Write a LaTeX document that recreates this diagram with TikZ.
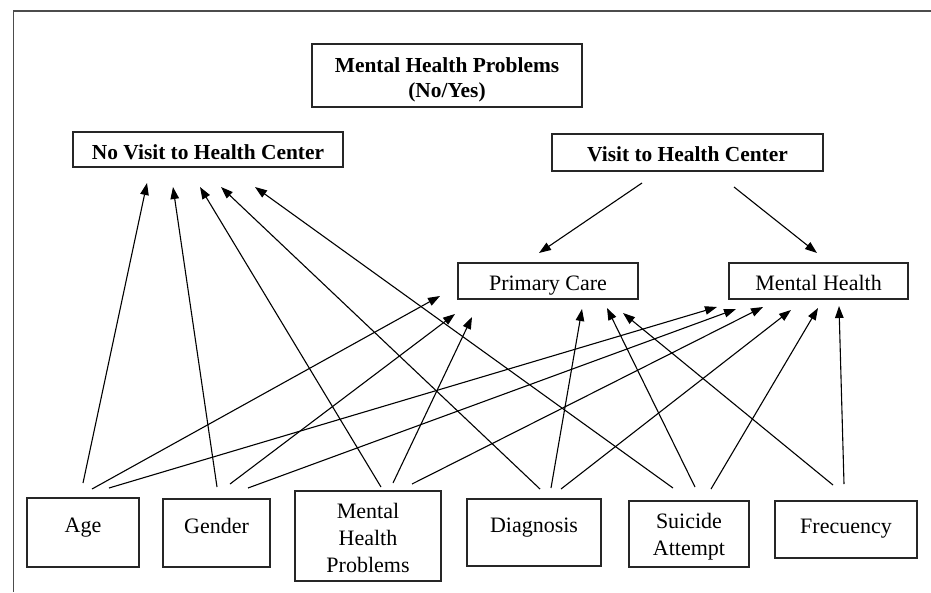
\documentclass[tikz,border=0pt]{standalone}
\usepackage{fontspec}
\setmainfont{Liberation Serif}
\usetikzlibrary{arrows.meta}
\begin{document}
\begin{tikzpicture}[x=1pt,y=-1pt,
  box/.style={draw=black!85,line width=1.2pt,inner sep=0pt,align=center},
  topbox/.style={box,font=\fontsize{21.4}{25}\selectfont\bfseries},
  botbox/.style={box,font=\fontsize{22}{27}\selectfont},
  arr/.style={draw=black,line width=1.1pt,-{Triangle[length=12pt,width=8.5pt]}},
  frame/.style={draw=black!70}]
\useasboundingbox (0,0) rectangle (931,592);
% frame lines
\draw[frame,line width=2pt] (13,11) -- (931,11);
\draw[frame,line width=1pt] (13,11) -- (13,592);

% top boxes
\node[topbox,minimum width=270pt,minimum height=63pt,text height=43pt,text depth=0pt] (mhptop) at (447,75.5) {Mental Health Problems\\(No/Yes)};
\node[topbox,minimum width=270pt,minimum height=35pt,text height=19pt,text depth=0pt] (novisit) at (208,149.5) {No Visit to Health Center};
\node[topbox,minimum width=271pt,minimum height=37pt,text height=17pt,text depth=0pt] (visit) at (687.5,152.5) {Visit to Health Center};

% middle boxes
\node[botbox,minimum width=180pt,minimum height=36pt,text height=18pt,text depth=0pt] (pc) at (548,281) {Primary Care};
\node[botbox,minimum width=179pt,minimum height=36pt,text height=18pt,text depth=0pt] (mh) at (818.5,281) {Mental Health};

% bottom boxes
\node[botbox,minimum width=112pt,minimum height=69pt,text height=6pt,text depth=7pt] (age) at (83,532.5) {Age};
\node[botbox,minimum width=107pt,minimum height=68pt,text height=6pt,text depth=6pt] (gender) at (216.5,533) {Gender};
\node[botbox,minimum width=146pt,minimum height=90pt,text height=72pt,text depth=0pt] (mhpbot) at (368,536) {Mental\\Health\\Problems};
\node[botbox,minimum width=134pt,minimum height=67pt,text height=6pt,text depth=6pt] (diag) at (534,532.5) {Diagnosis};
\node[botbox,minimum width=120pt,minimum height=66pt,text height=42pt,text depth=0pt] (suic) at (689,534) {Suicide\\Attempt};
\node[botbox,minimum width=142pt,minimum height=57pt,text height=10pt,text depth=3pt] (freq) at (846,529.5) {Frecuency};

% connector end points
\coordinate (age1) at (83,483);   \coordinate (nv1) at (147,183);
\coordinate (age2) at (92,489);   \coordinate (pc1) at (440,296);
\coordinate (age3) at (109,488);  \coordinate (mh1) at (717,307);
\coordinate (gen1) at (217,487);  \coordinate (nv2) at (173,187);
\coordinate (gen2) at (230,484);  \coordinate (pc2) at (455,314);
\coordinate (gen3) at (248,488);  \coordinate (mh2) at (736,309);
\coordinate (mhp1) at (381,487);  \coordinate (nv3) at (200,187);
\coordinate (mhp2) at (393,483);  \coordinate (pc3) at (472,317);
\coordinate (mhp3) at (412,484);  \coordinate (mh3) at (763,307);
\coordinate (dia1) at (540,489);  \coordinate (nv4) at (221,187);
\coordinate (dia2) at (551,488);  \coordinate (pc4) at (582,309);
\coordinate (dia3) at (561,489);  \coordinate (mh4) at (791,310);
\coordinate (sui1) at (673,488);  \coordinate (nv5) at (255,187);
\coordinate (sui2) at (695,487);  \coordinate (pc5) at (607,308);
\coordinate (sui3) at (711,489);  \coordinate (mh5) at (818,308);
\coordinate (fre1) at (833,485);  \coordinate (pc6) at (623,313);
\coordinate (fre2) at (844,484);  \coordinate (mh6) at (839,306);
\coordinate (vis1) at (642,183);  \coordinate (pc0) at (539,253);
\coordinate (vis2) at (734,187);  \coordinate (mh0) at (817,253);

% connectors
\draw[arr] (age1) -- (nv1);
\draw[arr] (age2) -- (pc1);
\draw[arr] (age3) -- (mh1);
\draw[arr] (gen1) -- (nv2);
\draw[arr] (gen2) -- (pc2);
\draw[arr] (gen3) -- (mh2);
\draw[arr] (mhp1) -- (nv3);
\draw[arr] (mhp2) -- (pc3);
\draw[arr] (mhp3) -- (mh3);
\draw[arr] (dia1) -- (nv4);
\draw[arr] (dia2) -- (pc4);
\draw[arr] (dia3) -- (mh4);
\draw[arr] (sui1) -- (nv5);
\draw[arr] (sui2) -- (pc5);
\draw[arr] (sui3) -- (mh5);
\draw[arr] (fre1) -- (pc6);
\draw[arr] (fre2) -- (mh6);
\draw[arr] (vis1) -- (pc0);
\draw[arr] (vis2) -- (mh0);
\end{tikzpicture}
\end{document}
